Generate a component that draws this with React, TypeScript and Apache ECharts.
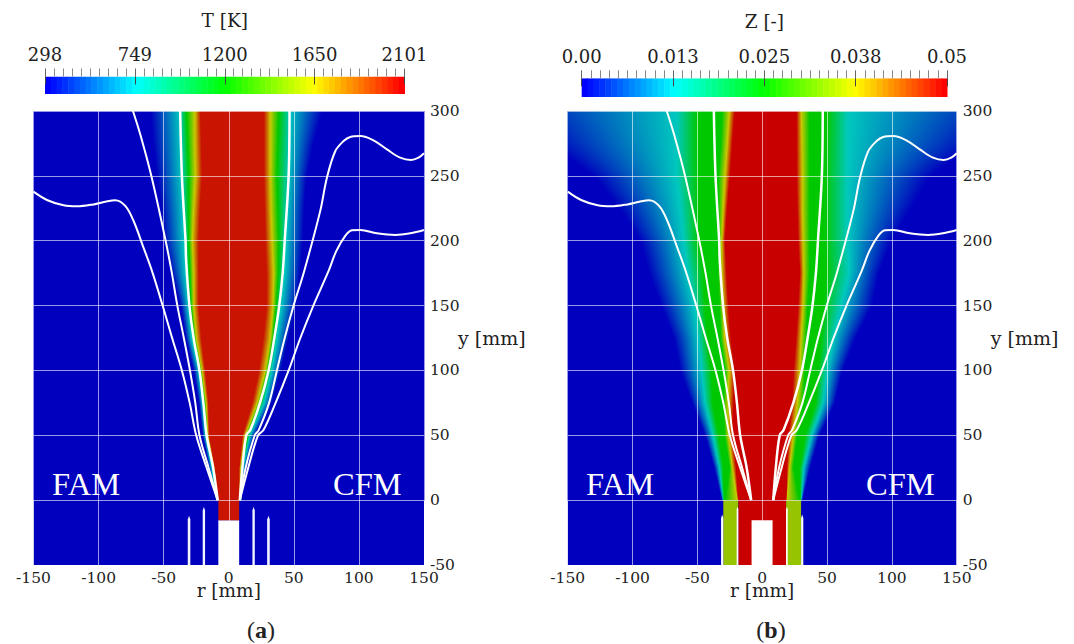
import React, { useEffect, useRef } from "react";
import * as echarts from "echarts";

const FONT = "DejaVu Serif";

const yLevels = [0, 25, 50, 75, 100, 125, 150, 175, 200, 225, 250, 275, 300];

// contour radii per y level: red edge, yellow, green, cyan, blue
const tempColors = ["#C81400", "#C8C800", "#00C800", "#00C8BE", "#0000BE"];
const tempLeft = [
  [-8, -8.5, -9, -9.5, -10],
  [-10.5, -11.5, -12, -13, -15],
  [-15, -16, -16.8, -18, -20],
  [-15.5, -17.3, -18.5, -20, -23],
  [-18, -20.5, -21.8, -23, -27],
  [-21, -24.8, -26.5, -28.5, -33],
  [-23, -27, -29, -31, -37],
  [-23, -27, -30, -33, -44],
  [-23, -28, -30.7, -34, -50],
  [-22, -27, -30.7, -35, -52],
  [-20.5, -25.6, -30.7, -36, -55],
  [-21, -26, -31.5, -36.5, -58],
  [-21.8, -26, -32.5, -37.5, -60],
];
const tempRight = [
  [8, 8.5, 9, 9.5, 10],
  [8, 9, 10, 11, 13],
  [10.5, 12.5, 14.5, 16, 20],
  [18, 21.8, 24, 27, 33],
  [23, 28, 30, 33, 40],
  [26.5, 32, 34, 37, 46],
  [29, 34, 36.5, 40, 52],
  [29, 34.5, 38, 43, 55],
  [28, 33.3, 38.4, 44, 57],
  [27.5, 32.5, 37.7, 45, 58],
  [27, 32, 37, 46, 60],
  [27, 32, 37.7, 46.5, 65],
  [27, 32, 38.5, 47, 72],
];

// mixture fraction: red edge, yellow, green, outer green, cyan, blue
const mixColors = ["#C80000", "#C8C800", "#00C800", "#00C800", "#00C8BE", "#0000BE"];
const mixLeft = [
  [-18.5, -19, -29, -29.5, -30, -31],
  [-20, -23, -25, -30, -33, -37],
  [-23, -26, -29, -33.5, -38, -44],
  [-22, -26.5, -30, -38, -44, -54],
  [-21, -25.4, -28.7, -39, -46.6, -63],
  [-24, -29, -32, -42, -49, -68],
  [-26, -30, -33, -44, -52, -78],
  [-27.4, -31, -34, -45, -57, -87],
  [-28.7, -31.2, -33.8, -49, -60.7, -94],
  [-27, -30, -33.8, -49, -63, -110],
  [-24.8, -28.7, -33.8, -49, -65.8, -130],
  [-23, -27, -32, -49.5, -65.8, -165],
  [-21, -25.4, -31, -50, -65.8, -195],
];
const mixRight = [
  [18.5, 19, 29, 29.5, 30, 31],
  [19, 21, 24, 29, 32, 37],
  [20, 24, 27, 33, 38, 44],
  [23, 27, 32, 41, 47, 56],
  [24, 29, 33, 43, 50, 62],
  [26, 30, 34, 45, 55, 72],
  [27.6, 31.5, 35, 47, 61, 85],
  [29, 32, 36.6, 49, 67, 90],
  [27.7, 31.5, 36.6, 48, 66, 100],
  [27, 31, 36.6, 48, 66, 115],
  [26.4, 31, 36.6, 48, 66, 130],
  [26.4, 30.6, 36.6, 49, 66, 165],
  [26.4, 30.2, 36.6, 50, 66, 195],
];

// white contour lines, [r, y]
const outerLeft = [[-8.5, 0], [-17, 25], [-25, 50], [-30, 75], [-36, 100], [-43.5, 125], [-50.8, 150], [-59, 176.7], [-65.5, 194.7], [-73.1, 215.2], [-79.5, 226.8], [-87.2, 231.2], [-94.9, 230], [-103.9, 228], [-116.6, 226.5], [-126.9, 227.3], [-139.7, 231.4], [-150, 237.8]];
const middleLeft = [[-8.5, 0], [-15.5, 25], [-22.5, 50], [-25.7, 75], [-29.8, 100], [-34.5, 125], [-39.5, 150], [-44, 176.7], [-48.5, 200], [-59.5, 250], [-68, 282], [-73.6, 300]];
const innerLeft = [[-8.5, 0], [-12, 25], [-17, 50], [-19.5, 75], [-22.5, 100], [-27, 125], [-30.2, 150], [-32.7, 184], [-33.2, 200], [-36, 250], [-37.3, 300]];
const innerRight = [[8.5, 0], [10.5, 25], [13.5, 50], [16.5, 54], [24, 75], [30.6, 100], [35, 125], [38.8, 150], [41.5, 176], [43, 200], [46, 250], [46.7, 300]];
const middleRight = [[8.5, 0], [13, 25], [20, 50], [23, 54], [31, 75], [37, 100], [43, 125], [49.8, 150], [58, 176.7], [70.3, 223], [75.4, 248.6], [81.8, 269], [88.2, 276.8], [93.3, 280], [101, 280.7], [111.2, 277.4], [121.5, 270.4], [131.7, 264], [140, 262.2], [145.8, 264], [150, 267.4]];
const outerRight = [[8.5, 0], [15, 25], [22.5, 50], [26.7, 54], [36, 75], [46, 100], [55, 125], [65, 150], [76.7, 176.7], [82.6, 192], [89.5, 203.7], [94.6, 208], [101, 208.3], [113.8, 205.7], [127.9, 204.4], [139.4, 205.7], [150, 208.3]];
const contourLines = [outerLeft, middleLeft, innerLeft, innerRight, middleRight, outerRight];

// nozzle pieces: r0, r1, bottom, top, tip height, colour
const nozzleA = [
  [-8, 8, -50, -15.5, 0, "#FFFFFF"],
  [-8, 8, -15.5, 0, 0, "#C81400"],
  [-31.5, -29.5, -50, -12, 3, "#F4F4FF"],
  [-20, -18.2, -50, -5, 3, "#F4F4FF"],
  [18.2, 20, -50, -5, 3, "#F4F4FF"],
  [29.5, 31.5, -50, -12, 3, "#F4F4FF"],
];
const nozzleB = [
  [-30, -18.4, -50, 0, 0, "#96C400"],
  [18.4, 30, -50, 0, 0, "#96C400"],
  [-18.4, 18.4, -50, 0, 0, "#C80000"],
  [-31.7, -30, -50, -11, 3, "#FFFFFF"],
  [-19.7, -18.4, -50, -5, 2, "#FFFFFF"],
  [-8.2, 8, -50, -15.5, 0, "#FFFFFF"],
  [18.4, 19.7, -50, -5, 2, "#FFFFFF"],
  [30, 31.7, -50, -11, 3, "#FFFFFF"],
];

const xTicks = [-150, 150];
const yTicks = [-50, 300];
const tempTickLabels = ["298", "749", "1200", "1650", "2101"];
const mixTickLabels = ["0.00", "0.013", "0.025", "0.038", "0.05"];
const barAnchors = [[0, 0, 255], [0, 255, 255], [0, 255, 0], [255, 255, 0], [255, 0, 0]];
const barBandCount = 62;

function lerp(a: number, b: number, t: number) {
  return a + (b - a) * t;
}

function barColor(t: number) {
  const p = t * (barAnchors.length - 1);
  const i = Math.min(Math.floor(p), barAnchors.length - 2);
  const f = p - i;
  const c = barAnchors[i].map((v, k) => Math.round(lerp(v, barAnchors[i + 1][k], f)));
  return `rgb(${c[0]},${c[1]},${c[2]})`;
}

const SPAN = 250;

function fieldSeries(xAxisIndex: number, yAxisIndex: number, left: number[][], right: number[][], colors: string[]) {
  return {
    type: "custom",
    xAxisIndex,
    yAxisIndex,
    clip: true,
    z: 2,
    silent: true,
    data: yLevels.slice(0, -1).map((y, i) => [0, y, i]),
    renderItem: (_: any, api: any) => {
      const i = api.value(2) as number;
      const y0 = yLevels[i];
      const y1 = yLevels[i + 1];
      const steps = 16;
      const children: any[] = [];
      const blue = colors[colors.length - 1];
      for (let s = 0; s < steps; s++) {
        const t = (s + 0.5) / steps;
        const ya = lerp(y0, y1, s / steps);
        const yb = lerp(y0, y1, (s + 1) / steps);
        const stops: any[] = [{ offset: 0, color: blue }];
        for (let k = colors.length - 1; k >= 0; k--) {
          const r = lerp(left[i][k], left[i + 1][k], t);
          stops.push({ offset: (r + SPAN) / (2 * SPAN), color: colors[k] });
        }
        for (let k = 0; k < colors.length; k++) {
          const r = lerp(right[i][k], right[i + 1][k], t);
          stops.push({ offset: (r + SPAN) / (2 * SPAN), color: colors[k] });
        }
        stops.push({ offset: 1, color: blue });
        const p0 = api.coord([-SPAN, yb]);
        const p1 = api.coord([SPAN, ya]);
        children.push({
          type: "rect",
          shape: { x: p0[0], y: p0[1] - 0.4, width: p1[0] - p0[0], height: p1[1] - p0[1] + 0.8 },
          style: { fill: new echarts.graphic.LinearGradient(0, 0, 1, 0, stops) },
        });
      }
      return { type: "group", children };
    },
  };
}

function nozzleSeries(xAxisIndex: number, yAxisIndex: number, pieces: any[][]) {
  return {
    type: "custom",
    xAxisIndex,
    yAxisIndex,
    clip: true,
    z: 3,
    silent: true,
    data: pieces.map((p, i) => [p[0], p[2], i]),
    renderItem: (_: any, api: any) => {
      const [r0, r1, bottom, top, tip, color] = pieces[api.value(2) as number];
      const mid = (r0 + r1) / 2;
      const pts = tip
        ? [[r0, bottom], [r1, bottom], [r1, top - tip], [mid, top], [r0, top - tip]]
        : [[r0, bottom], [r1, bottom], [r1, top], [r0, top]];
      return {
        type: "polygon",
        shape: { points: pts.map((p) => api.coord(p)) },
        style: { fill: color },
      };
    },
  };
}

function barSeries(xAxisIndex: number, yAxisIndex: number) {
  return {
    type: "custom",
    xAxisIndex,
    yAxisIndex,
    clip: true,
    z: 2,
    silent: true,
    data: Array.from({ length: barBandCount }, (_, i) => [i / barBandCount * 4, 0, i]),
    renderItem: (_: any, api: any) => {
      const i = api.value(2) as number;
      const a = api.coord([(i / barBandCount) * 4, 1]);
      const b = api.coord([((i + 1) / barBandCount) * 4, 0]);
      return {
        type: "rect",
        shape: { x: a[0], y: a[1], width: b[0] - a[0] + 0.5, height: b[1] - a[1] },
        style: { fill: barColor(i / (barBandCount - 1)) },
      };
    },
  };
}

function fieldAxes(gridIndex: number) {
  const split = { show: true, lineStyle: { color: "rgba(255,255,255,0.6)", width: 1 } };
  return {
    x: {
      type: "value",
      gridIndex,
      min: xTicks[0],
      max: xTicks[1],
      interval: 50,
      z: 5,
      position: "bottom",
      axisLine: { show: false, onZero: false },
      axisTick: { show: false },
      axisLabel: { fontFamily: FONT, fontSize: 15.5, color: "#222", margin: 5, showMinLabel: true, showMaxLabel: true },
      splitLine: split,
      name: "r [mm]",
      nameLocation: "middle",
      nameGap: 16,
      nameMoveOverlap: false,
      nameTextStyle: { fontFamily: FONT, fontSize: 18.5, color: "#222" },
    },
    y: {
      type: "value",
      gridIndex,
      min: yTicks[0],
      max: yTicks[1],
      interval: 50,
      z: 5,
      position: "right",
      axisLine: { show: false, onZero: false },
      axisTick: { show: false },
      axisLabel: { fontFamily: FONT, fontSize: 15.5, color: "#222", margin: 6, showMinLabel: true, showMaxLabel: true },
      splitLine: split,
      name: "y [mm]",
      nameLocation: "middle",
      nameRotate: 0,
      nameGap: 34,
      nameMoveOverlap: false,
      nameTextStyle: { fontFamily: FONT, fontSize: 19, color: "#222", align: "left" },
    },
  };
}

function barAxes(gridIndex: number, labels: string[], title: string, nameGap: number) {
  return {
    outer: {
      type: "value",
      gridIndex,
      min: 0,
      max: 4,
      interval: 1,
      position: "top",
      z: 6,
      axisLine: { show: false, onZero: false },
      axisTick: { show: true, length: 8, lineStyle: { color: "#666", width: 1 } },
      minorTick: { show: true, splitNumber: 10, length: 8, lineStyle: { color: "#888", width: 1 } },
      axisLabel: {
        fontFamily: FONT,
        fontSize: 18,
        color: "#222",
        margin: 13,
        showMinLabel: true,
        showMaxLabel: true,
        formatter: (v: number) => labels[Math.round(v)],
      },
      splitLine: { show: false },
      name: title,
      nameLocation: "middle",
      nameGap,
      nameMoveOverlap: false,
      nameTextStyle: { fontFamily: FONT, fontSize: 18.5, color: "#222" },
    },
    inner: {
      type: "value",
      gridIndex,
      min: 0,
      max: 4,
      interval: 1,
      position: "top",
      z: 6,
      axisLine: { show: false, onZero: false },
      axisTick: { show: true, inside: true, length: 8, lineStyle: { color: "#444", width: 1 } },
      axisLabel: { show: false },
      splitLine: { show: false },
    },
    y: { type: "value", gridIndex, min: 0, max: 1, show: false },
  };
}

function lineSeriesFor(xAxisIndex: number, yAxisIndex: number) {
  return contourLines.map((pts, i) => ({
    type: "line",
    xAxisIndex,
    yAxisIndex,
    z: 10,
    smooth: 0.35,
    showSymbol: false,
    silent: true,
    data: pts,
    lineStyle: { color: "#FFFFFF", width: i === 2 || i === 3 ? 2.5 : 2 },
  }));
}

const whiteLabel = (text: string, x: number) => ({
  type: "text",
  x,
  y: 484,
  z: 20,
  style: { text, fill: "#FFFFFF", font: "32.5px 'Liberation Serif'", textAlign: "left", textVerticalAlign: "middle" },
});

const caption = (letter: string, x: number) => ({
  type: "text",
  x,
  y: 630,
  z: 20,
  style: {
    text: `{n|(}{b|${letter}}{n|)}`,
    textAlign: "center",
    textVerticalAlign: "middle",
    rich: {
      n: { font: `24px 'Liberation Serif'`, fill: "#222" },
      b: { font: `bold 24px 'Liberation Serif'`, fill: "#222" },
    },
  },
});

export default function App() {
  const ref = useRef<HTMLDivElement>(null);
  useEffect(() => {
    const chart = echarts.init(ref.current!, undefined, { renderer: "svg" });
    const fa = fieldAxes(0);
    const fb = fieldAxes(2);
    const ba = barAxes(1, tempTickLabels, "T [K]", 47);
    const bb = barAxes(3, mixTickLabels, "Z [-]", 47);
    chart.setOption({
      animation: false,
      backgroundColor: "#FFFFFF",
      grid: [
        { left: 33.5, top: 111, width: 390.5, height: 454, backgroundColor: "#0000BE", show: true, borderWidth: 0 },
        { left: 45, top: 76.5, width: 359.5, height: 17.5 },
        { left: 567.7, top: 111, width: 389, height: 454, backgroundColor: "#0000BE", show: true, borderWidth: 0 },
        { left: 581.7, top: 78.3, width: 365.3, height: 18.7 },
      ],
      xAxis: [fa.x, ba.outer, ba.inner, fb.x, bb.outer, bb.inner],
      yAxis: [fa.y, ba.y, fb.y, bb.y],
      series: [
        fieldSeries(0, 0, tempLeft, tempRight, tempColors),
        nozzleSeries(0, 0, nozzleA),
        ...lineSeriesFor(0, 0),
        barSeries(1, 1),
        fieldSeries(3, 2, mixLeft, mixRight, mixColors),
        nozzleSeries(3, 2, nozzleB),
        ...lineSeriesFor(3, 2),
        barSeries(4, 3),
      ],
      graphic: [
        whiteLabel("FAM", 52),
        whiteLabel("CFM", 333),
        whiteLabel("FAM", 586),
        whiteLabel("CFM", 866),
        caption("a", 261),
        caption("b", 771),
      ],
    });
    return () => chart.dispose();
  }, []);
  return <div ref={ref} style={{ position: "fixed", left: 0, top: 0, width: 1074, height: 644 }} />;
}
